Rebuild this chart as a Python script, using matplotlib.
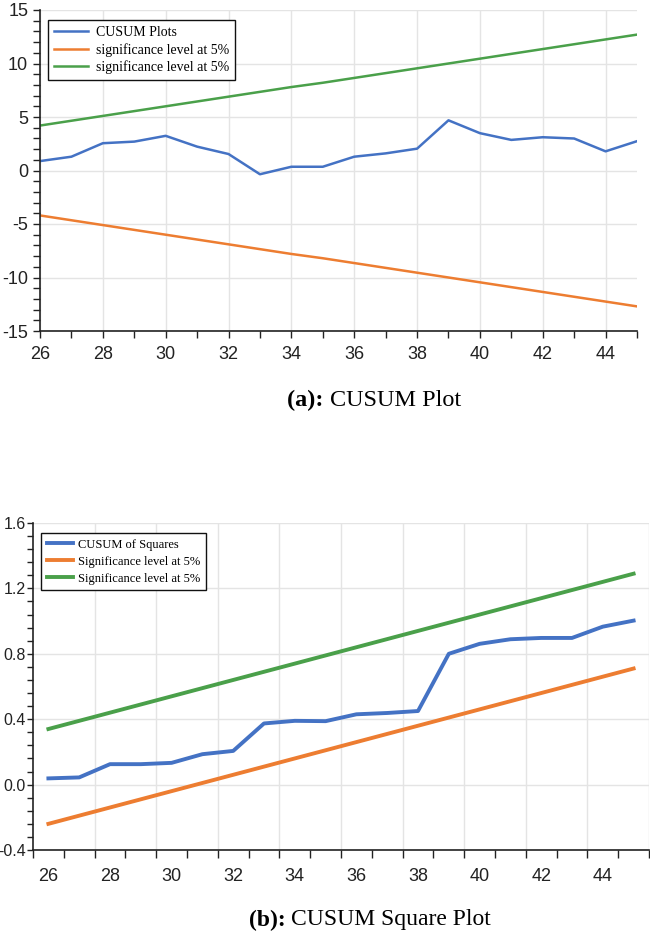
import numpy as np
import matplotlib
import matplotlib.pyplot as plt

matplotlib.use("Agg")
plt.rcParams["axes.unicode_minus"] = False

# ---- data ----
years = list(range(26, 46))

cusum = [0.88, 1.29, 2.55, 2.70, 3.24, 2.23, 1.54, -0.35, 0.35, 0.35,
         1.29, 1.60, 2.04, 4.69, 3.49, 2.86, 3.11, 2.99, 1.79, 2.74]
cusum_upper = [4.20, 4.65, 5.10, 5.55, 6.00, 6.45, 6.90, 7.35, 7.80, 8.20,
               8.65, 9.10, 9.55, 10.00, 10.45, 10.90, 11.35, 11.80, 12.25, 12.70]
cusum_lower = [-4.20, -4.65, -5.10, -5.55, -6.00, -6.45, -6.90, -7.35, -7.80, -8.20,
               -8.65, -9.10, -9.55, -10.00, -10.45, -10.90, -11.35, -11.80, -12.25, -12.70]

cusumsq = [0.038, 0.044, 0.125, 0.125, 0.133, 0.186, 0.206, 0.374, 0.390, 0.388,
           0.430, 0.438, 0.450, 0.800, 0.861, 0.889, 0.897, 0.897, 0.966, 1.003]
sq_lower = [-0.24, -0.19, -0.14, -0.09, -0.04, 0.01, 0.06, 0.11, 0.16, 0.21,
            0.26, 0.31, 0.36, 0.41, 0.46, 0.51, 0.56, 0.61, 0.66, 0.71]
sq_upper = [0.34, 0.39, 0.44, 0.49, 0.54, 0.59, 0.64, 0.69, 0.74, 0.79,
            0.84, 0.89, 0.94, 0.99, 1.04, 1.09, 1.14, 1.19, 1.24, 1.29]

xtick_labels = list(range(26, 46, 2))

BLUE = "#4472c4"
ORANGE = "#ed7d31"
GREEN = "#4aa04a"
GRID = "#e4e4e4"
TICK_FONT = ["Liberation Sans", "DejaVu Sans"]
SERIF = ["Liberation Serif", "DejaVu Serif"]

fig = plt.figure(figsize=(6.5, 9.39), dpi=100)


def style_axes(ax):
    for side in ("top", "right"):
        ax.spines[side].set_visible(False)
    for side in ("left", "bottom"):
        ax.spines[side].set_color("#222222")
        ax.spines[side].set_linewidth(1.2)
    ax.tick_params(which="both", direction="out", color="#222222",
                   width=1.0, length=5, labelsize=13, labelcolor="#222222")
    for lab in ax.get_xticklabels() + ax.get_yticklabels():
        lab.set_family(TICK_FONT)
    ax.set_axisbelow(True)


def caption(x_center, y, bold_part, rest, size=17):
    # bold "(a):" followed by regular text, centred as a whole
    renderer = fig.canvas.get_renderer()
    t1 = fig.text(0, y, bold_part + " ", ha="left", va="center",
                  fontsize=size, family=SERIF, weight="bold")
    t2 = fig.text(0, y, rest, ha="left", va="center",
                  fontsize=size, family=SERIF)
    w1 = t1.get_window_extent(renderer).width / fig.bbox.width
    w2 = t2.get_window_extent(renderer).width / fig.bbox.width
    x0 = x_center - (w1 + w2) / 2
    t1.set_x(x0)
    t2.set_x(x0 + w1)


# ---- (a) CUSUM ----
ax1 = fig.add_axes([40 / 650, 1 - 331 / 939, 597 / 650, 321 / 939])
ax1.plot(years, cusum, color=BLUE, lw=1.8, label="CUSUM Plots")
ax1.plot(years, cusum_lower, color=ORANGE, lw=1.8, label="significance level at 5%")
ax1.plot(years, cusum_upper, color=GREEN, lw=1.8, label="significance level at 5%")
ax1.set_xlim(26, 45)
ax1.set_ylim(-15, 15)
ax1.set_xticks(xtick_labels)
ax1.set_xticks(years, minor=True)
ax1.set_yticks(np.arange(-15, 16, 5))
ax1.set_yticks(np.arange(-15, 16, 1), minor=True)
ax1.grid(True, which="major", color=GRID, lw=1.0)
style_axes(ax1)
ax1.tick_params(axis="x", pad=6)
leg1 = ax1.legend(loc="upper left", bbox_to_anchor=(8 / 597, 1 - 10 / 321),
                  borderaxespad=0, fancybox=False, framealpha=1,
                  edgecolor="#111111", handlelength=2.4, handletextpad=0.6,
                  labelspacing=0.25, borderpad=0.45,
                  prop={"family": SERIF, "size": 10})
leg1.get_frame().set_linewidth(1.0)

caption(374 / 650, 1 - 400 / 939, "(a):", "CUSUM Plot", size=17.5)

# ---- (b) CUSUM of squares ----
ax2 = fig.add_axes([33 / 650, 1 - 850 / 939, 616 / 650, 327 / 939])
ax2.plot(years, cusumsq, color=BLUE, lw=2.8, label="CUSUM of Squares")
ax2.plot(years, sq_lower, color=ORANGE, lw=2.8, label="Significance level at 5%")
ax2.plot(years, sq_upper, color=GREEN, lw=2.8, label="Significance level at 5%")
ax2.set_xlim(25.5, 45.5)
ax2.set_ylim(-0.4, 1.6)
boundaries = np.arange(25.5, 46, 1)
ax2.set_xticks(boundaries)
ax2.set_xticklabels([])
ax2.set_xticks(xtick_labels, minor=True)
ax2.set_xticklabels([str(v) for v in xtick_labels], minor=True)
yvals = np.arange(-0.4, 1.61, 0.4)
ax2.set_yticks(yvals)
ax2.set_yticklabels([f"{v:.1f}" for v in yvals])
ax2.set_yticks(np.arange(-0.4, 1.61, 0.08), minor=True)
ax2.grid(True, axis="y", which="major", color=GRID, lw=1.0)
for b in boundaries[2::2]:
    ax2.axvline(b, color=GRID, lw=1.0, zorder=0)
style_axes(ax2)
ax2.tick_params(axis="y", which="both", labelsize=11.5, pad=1, length=4)
ax2.tick_params(axis="x", which="major", length=6)
ax2.tick_params(axis="x", which="minor", length=0, pad=13)
for lab in ax2.get_xticklabels(minor=True) + ax2.get_yticklabels():
    lab.set_family(TICK_FONT)
leg2 = ax2.legend(loc="upper left", bbox_to_anchor=(8 / 616, 1 - 10 / 327),
                  borderaxespad=0, fancybox=False, framealpha=1,
                  edgecolor="#111111", handlelength=2.1, handletextpad=0.4,
                  labelspacing=0.4, borderpad=0.45,
                  prop={"family": SERIF, "size": 9})
leg2.get_frame().set_linewidth(1.0)

caption(370 / 650, 1 - 920 / 939, "(b):", "CUSUM Square Plot", size=17)

fig.savefig("out.png", dpi=100)
